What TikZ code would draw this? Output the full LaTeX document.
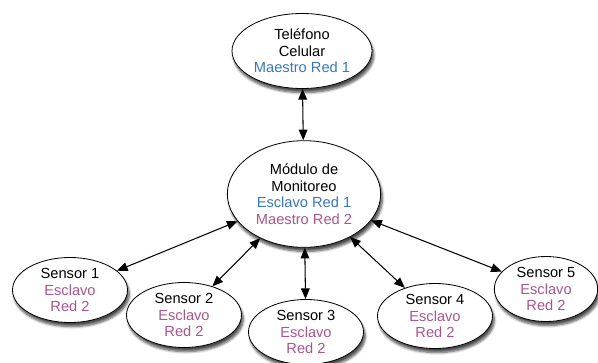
\documentclass[tikz,border=0pt]{standalone}
\usepackage{fontspec}
\setmainfont{Liberation Sans}
\usepackage{tikz}
\usetikzlibrary{shapes.geometric}
\usetikzlibrary{shadows.blur}
\usetikzlibrary {arrows.meta}
\definecolor{redA}{RGB}{55,120,190}
\definecolor{redB}{RGB}{170,85,140}

\begin{document}
\begin{tikzpicture}[x=0.03cm,y=-0.03cm,
        nodo/.style = {ellipse, draw=black, fill=white, line width=0.7pt, align=center, inner sep=-3pt,
            font=\fontsize{12.5}{14.2}\selectfont,
            blur shadow={shadow xshift=1.5pt, shadow yshift=-3.5pt, shadow blur steps=6, shadow opacity=70}},
        sensor/.style = {nodo, minimum width=3.45cm, minimum height=1.95cm},
        enlace/.style = {{Triangle[length=3.2mm,width=2.6mm]}-{Triangle[length=3.2mm,width=2.6mm]}, line width=0.9pt},
    ]
    \useasboundingbox (0,0) rectangle (598,362);
    % red 1
    \node[nodo, minimum width=4.2cm, minimum height=2.25cm] (tel) at (302,51)
        {Teléfono\\Celular\\\textcolor{redA}{Maestro Red 1}};
    \node[nodo, minimum width=4.6cm, minimum height=3.2cm] (mod) at (304,194)
        {Módulo de\\Monitoreo\\\textcolor{redA}{Esclavo Red 1}\\\textcolor{redB}{Maestro Red 2}};
    % red 2
    \node[sensor] (s1) at (70,290) {Sensor 1\\\textcolor{redB}{Esclavo}\\\textcolor{redB}{Red 2}};
    \node[sensor] (s2) at (184,315) {Sensor 2\\\textcolor{redB}{Esclavo}\\\textcolor{redB}{Red 2}};
    \node[sensor] (s3) at (306,332) {Sensor 3\\\textcolor{redB}{Esclavo}\\\textcolor{redB}{Red 2}};
    \node[sensor] (s4) at (435,316) {Sensor 4\\\textcolor{redB}{Esclavo}\\\textcolor{redB}{Red 2}};
    \node[sensor, minimum width=3.1cm] (s5) at (546,289) {Sensor 5\\\textcolor{redB}{Esclavo}\\\textcolor{redB}{Red 2}};
    % enlaces
    \draw[enlace] (tel) -- (mod);
    \draw[enlace] (s1) -- (mod);
    \draw[enlace] (s2) -- (mod);
    \draw[enlace] (s3) -- (mod);
    \draw[enlace] (s4) -- (mod);
    \draw[enlace] (s5) -- (mod);
\end{tikzpicture}
\end{document}
